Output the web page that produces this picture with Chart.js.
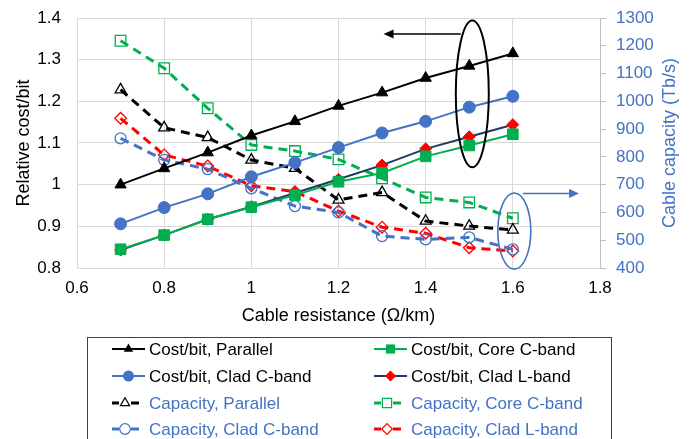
<!DOCTYPE html>
<html>
<head>
<meta charset="utf-8">
<script src="https://cdn.jsdelivr.net/npm/chart.js@4.4.1/dist/chart.umd.min.js"></script>
<style>
  html, body { margin: 0; padding: 0; background: #ffffff; }
  canvas { display: block; }
</style>
</head>
<body>
<canvas id="chart" width="690" height="439"></canvas>
<script>
// Cable resistance (Ohm/km) for each design point
const resistance = [0.7, 0.8, 0.9, 1.0, 1.1, 1.2, 1.3, 1.4, 1.5, 1.6];

// Relative cost per bit (left axis)
const costParallel = [1.000, 1.039, 1.077, 1.118, 1.152, 1.189, 1.221, 1.256, 1.285, 1.315];
const costCoreC    = [0.845, 0.879, 0.917, 0.946, 0.975, 1.007, 1.028, 1.068, 1.094, 1.121];
const costCladC    = [0.906, 0.945, 0.978, 1.019, 1.053, 1.089, 1.124, 1.152, 1.186, 1.212];
const costCladL    = [0.843, 0.879, 0.917, 0.947, 0.980, 1.013, 1.047, 1.086, 1.115, 1.144];

// Cable capacity in Tb/s (right axis)
const capParallel = [1042, 905, 870, 789, 759, 645, 672, 569, 551, 537];
const capCoreC    = [1218, 1119, 975, 843, 821, 791, 723, 654, 636, 579];
const capCladC    = [867, 789, 756, 687, 623, 600, 515, 503, 510, 467];
const capCladL    = [939, 807, 767, 696, 675, 605, 547, 525, 473, 461];

// Tick values
const xTickValues     = [0.6, 0.8, 1.0, 1.2, 1.4, 1.6, 1.8];
const costTickValues  = [0.8, 0.9, 1.0, 1.1, 1.2, 1.3, 1.4];
const capTickValues   = [400, 500, 600, 700, 800, 900, 1000, 1100, 1200, 1300];

const FONT = '"Liberation Sans", Arial, sans-serif';
const BLUE = '#4472C4';
const GREEN = '#00B050';
const RED = '#FF0000';
const NAVY = '#203864';
const GRID = '#d9d9d9';

const pts = arr => arr.map((v, i) => ({ x: resistance[i], y: v }));

function costSeries(label, data, color, style, radius, fill) {
  return {
    label, data: pts(data), yAxisID: 'y',
    borderColor: color, borderWidth: 2,
    pointStyle: style, pointRadius: radius, pointHoverRadius: radius,
    pointBackgroundColor: fill, pointBorderColor: fill, pointBorderWidth: 1,
    kind: 'cost'
  };
}
function capSeries(label, data, color, style, radius) {
  return {
    label, data: pts(data), yAxisID: 'y1',
    borderColor: color, borderWidth: 3, borderDash: [9, 6],
    pointStyle: style, pointRadius: radius, pointHoverRadius: radius,
    pointBackgroundColor: 'rgba(255,255,255,0)', pointBorderColor: color, pointBorderWidth: 1.3,
    kind: 'cap'
  };
}

const datasets = [
  costSeries('Cost/bit, Parallel',     costParallel, '#000000', 'triangle', 6.5, '#000000'),
  costSeries('Cost/bit, Core C-band',  costCoreC,    GREEN,     'rect',     7.5, GREEN),
  costSeries('Cost/bit, Clad C-band',  costCladC,    BLUE,      'circle',   6,   BLUE),
  costSeries('Cost/bit, Clad L-band',  costCladL,    NAVY,      'rectRot',  6,   RED),
  capSeries('Capacity, Parallel',      capParallel,  '#000000', 'triangle', 6.3),
  capSeries('Capacity, Core C-band',   capCoreC,     GREEN,     'rect',     7.5),
  capSeries('Capacity, Clad C-band',   capCladC,     BLUE,      'circle',   5.5),
  capSeries('Capacity, Clad L-band',   capCladL,     RED,       'rectRot',  5.8)
];

// Marker shapes for the legend, same geometry as Chart.js point styles
function marker(ctx, style, x, y, r) {
  ctx.beginPath();
  if (style === 'triangle') {
    ctx.moveTo(x, y - r);
    ctx.lineTo(x + Math.sin(2 * Math.PI / 3) * r, y - Math.cos(2 * Math.PI / 3) * r);
    ctx.lineTo(x + Math.sin(4 * Math.PI / 3) * r, y - Math.cos(4 * Math.PI / 3) * r);
    ctx.closePath();
  } else if (style === 'rect') {
    const s = r * Math.SQRT1_2;
    ctx.rect(x - s, y - s, 2 * s, 2 * s);
  } else if (style === 'rectRot') {
    ctx.moveTo(x - r, y); ctx.lineTo(x, y + r); ctx.lineTo(x + r, y); ctx.lineTo(x, y - r);
    ctx.closePath();
  } else {
    ctx.arc(x, y, r, 0, Math.PI * 2);
  }
}

// Ellipses and arrows grouping the two families of curves
const groupNotes = {
  id: 'groupNotes',
  afterDatasetsDraw(chart) {
    const { ctx, scales: { x, y, y1 } } = chart;
    const drawArrow = (x0, yy, x1, color, width) => {
      const dir = Math.sign(x1 - x0);
      ctx.strokeStyle = color; ctx.fillStyle = color; ctx.lineWidth = width;
      ctx.beginPath(); ctx.moveTo(x0, yy); ctx.lineTo(x1 - dir * 8, yy); ctx.stroke();
      ctx.beginPath();
      ctx.moveTo(x1, yy); ctx.lineTo(x1 - dir * 10, yy - 4.5); ctx.lineTo(x1 - dir * 10, yy + 4.5);
      ctx.closePath(); ctx.fill();
    };
    ctx.save();
    // cost/bit group -> left axis
    const cx1 = x.getPixelForValue(1.507), cy1 = y.getPixelForValue(1.218);
    const ry1 = cy1 - y.getPixelForValue(1.394);
    ctx.strokeStyle = '#000000'; ctx.lineWidth = 2;
    ctx.beginPath(); ctx.ellipse(cx1, cy1, 16.5, ry1, 0, 0, Math.PI * 2); ctx.stroke();
    drawArrow(x.getPixelForValue(1.4805), y.getPixelForValue(1.3615), x.getPixelForValue(1.3034), '#000000', 1.6);
    // capacity group -> right axis
    const cx2 = x.getPixelForValue(1.6034), cy2 = y1.getPixelForValue(533);
    const ry2 = cy2 - y1.getPixelForValue(670);
    ctx.strokeStyle = BLUE; ctx.lineWidth = 1.6;
    ctx.beginPath(); ctx.ellipse(cx2, cy2, 16.5, ry2, 0, 0, Math.PI * 2); ctx.stroke();
    drawArrow(x.getPixelForValue(1.623), y1.getPixelForValue(668), x.getPixelForValue(1.752), BLUE, 1.6);
    ctx.restore();
  }
};

// Right-hand axis title (reads bottom to top) and the boxed legend
const frame = {
  id: 'frame',
  afterDraw(chart) {
    const { ctx, chartArea } = chart;
    ctx.save();
    ctx.font = '18px ' + FONT;
    ctx.fillStyle = BLUE;
    ctx.textAlign = 'center'; ctx.textBaseline = 'middle';
    ctx.translate(670, (chartArea.top + chartArea.bottom) / 2);
    ctx.rotate(-Math.PI / 2);
    ctx.fillText('Cable capacity (Tb/s)', 0, 0);
    ctx.restore();

    ctx.save();
    ctx.strokeStyle = '#404040'; ctx.lineWidth = 1;
    ctx.strokeRect(87.5, 337.5, 524, 140);
    const layout = [[0, 0, 0], [1, 0, 1], [2, 1, 0], [3, 1, 1], [4, 2, 0], [5, 2, 1], [6, 3, 0], [7, 3, 1]];
    const rowY = [349, 376, 403, 429];
    const colX = [112, 374];
    ctx.font = '17px ' + FONT;
    ctx.textAlign = 'left'; ctx.textBaseline = 'middle';
    layout.forEach(([di, row, col]) => {
      const ds = chart.data.datasets[di];
      const x0 = colX[col], yy = rowY[row];
      ctx.strokeStyle = ds.borderColor;
      if (ds.kind === 'cost') {
        ctx.lineWidth = 2;
        ctx.beginPath(); ctx.moveTo(x0, yy); ctx.lineTo(x0 + 33, yy); ctx.stroke();
        marker(ctx, ds.pointStyle, x0 + 16.5, yy, ds.pointStyle === 'rect' ? 6.5 : 5.5);
        ctx.fillStyle = ds.pointBackgroundColor; ctx.fill();
      } else {
        ctx.lineWidth = 3;
        ctx.beginPath(); ctx.moveTo(x0, yy); ctx.lineTo(x0 + 7, yy);
        ctx.moveTo(x0 + 19, yy); ctx.lineTo(x0 + 27, yy); ctx.stroke();
        ctx.lineWidth = 1.2;
        marker(ctx, ds.pointStyle, x0 + 13, yy, ds.pointStyle === 'rect' ? 6.5 : 5.3);
        ctx.fillStyle = '#ffffff'; ctx.fill(); ctx.stroke();
      }
      ctx.fillStyle = ds.kind === 'cost' ? '#000000' : BLUE;
      ctx.fillText(ds.label, x0 + 37, yy + 1);
    });
    ctx.restore();
  }
};

const fmt = v => String(Math.round(v * 10) / 10);
const noEdgePadding = s => { s.paddingTop = 0; s.paddingBottom = 0; s.paddingLeft = 0; s.paddingRight = 0; };

new Chart(document.getElementById('chart'), {
  type: 'line',
  data: { datasets },
  options: {
    responsive: false,
    animation: false,
    devicePixelRatio: 1,
    layout: { padding: { top: 18, bottom: 112, left: 0, right: 0 } },
    plugins: { legend: { display: false }, tooltip: { enabled: false } },
    elements: { line: { tension: 0, fill: false } },
    scales: {
      x: {
        type: 'linear', min: 0.6, max: 1.8,
        afterBuildTicks: s => { s.ticks = xTickValues.map(v => ({ value: v })); },
        afterFit: s => { s.height = 59; noEdgePadding(s); },
        grid: { color: GRID, lineWidth: 1, drawTicks: false },
        border: { color: GRID },
        ticks: { color: '#000000', font: { family: FONT, size: 17 }, padding: 10, callback: fmt, maxRotation: 0 },
        title: { display: true, text: 'Cable resistance (\u03A9/km)', color: '#000000', font: { family: FONT, size: 18 }, padding: 0 }
      },
      y: {
        type: 'linear', position: 'left', min: 0.8, max: 1.4,
        afterBuildTicks: s => { s.ticks = costTickValues.map(v => ({ value: v })); },
        afterFit: s => { s.width = 77; noEdgePadding(s); },
        grid: { color: GRID, lineWidth: 1, drawTicks: false },
        border: { color: GRID },
        ticks: { color: '#000000', font: { family: FONT, size: 17 }, padding: 16, callback: fmt },
        title: { display: true, text: 'Relative cost/bit', color: '#000000', font: { family: FONT, size: 18 }, padding: { top: 13, bottom: 0 } }
      },
      y1: {
        type: 'linear', position: 'right', min: 400, max: 1300,
        afterBuildTicks: s => { s.ticks = capTickValues.map(v => ({ value: v })); },
        afterFit: s => { s.width = 90; noEdgePadding(s); },
        grid: { drawOnChartArea: false, color: '#bfbfbf', tickLength: 6 },
        border: { color: '#bfbfbf' },
        ticks: { color: BLUE, font: { family: FONT, size: 17 }, padding: 10, callback: v => String(v) }
      }
    }
  },
  plugins: [groupNotes, frame]
});
</script>
</body>
</html>
